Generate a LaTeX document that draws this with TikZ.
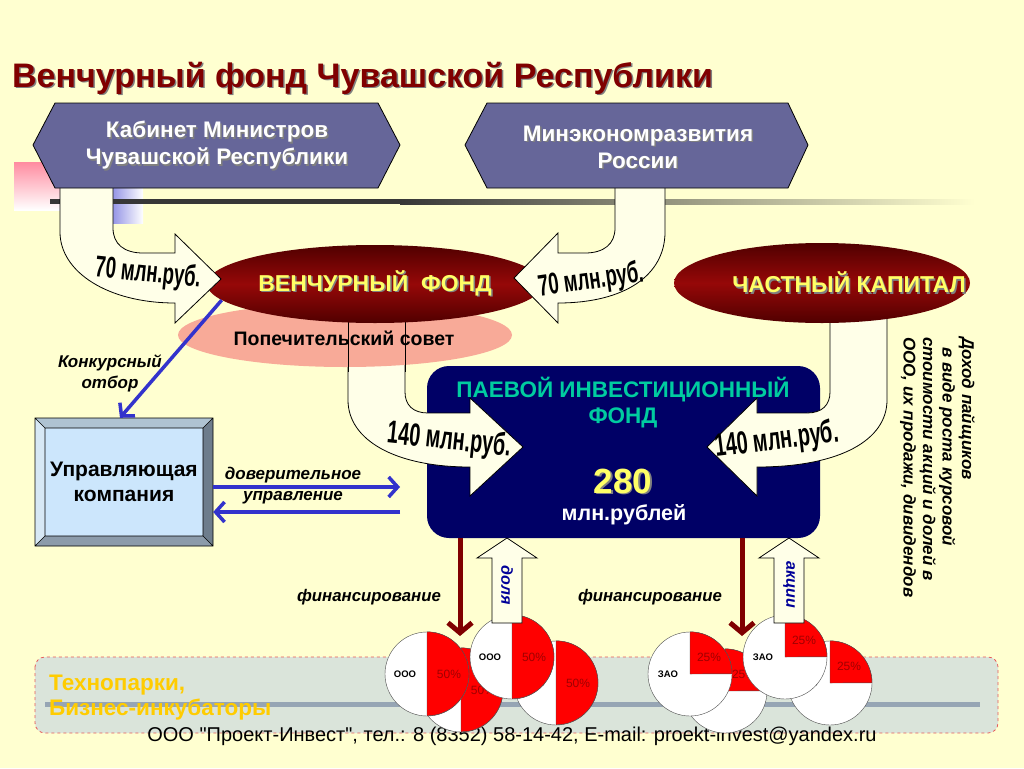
\documentclass[tikz,border=0pt]{standalone}
\usepackage{fontspec}
\setmainfont{Liberation Sans}
\newfontfamily\narrowfont[FakeStretch=0.62]{Liberation Sans Bold}
\newfontfamily\footfont[Ligatures=TeXOff]{Liberation Sans}
\usetikzlibrary{positioning, shapes.geometric, arrows.meta}

\definecolor{bgyellow}{RGB}{255,255,208}
\definecolor{titlered}{RGB}{128,0,0}
\definecolor{hexblue}{RGB}{102,102,153}
\definecolor{darkmaroon}{RGB}{80,0,0}
\definecolor{midmaroon}{RGB}{150,8,8}
\definecolor{salmonfill}{RGB}{248,170,152}
\definecolor{navyfill}{RGB}{0,0,102}
\definecolor{piftext}{RGB}{0,204,160}
\definecolor{fundyellow}{RGB}{255,255,102}
\definecolor{arrowfill}{RGB}{255,255,232}
\definecolor{selblue}{RGB}{51,51,204}
\definecolor{boxface}{RGB}{204,230,252}
\definecolor{bevtop}{RGB}{175,195,210}
\definecolor{bevleft}{RGB}{215,232,245}
\definecolor{bevright}{RGB}{110,125,140}
\definecolor{bevbottom}{RGB}{140,155,170}
\definecolor{finred}{RGB}{128,0,0}
\definecolor{sharetext}{RGB}{0,0,153}
\definecolor{piered}{RGB}{255,0,0}
\definecolor{pievalue}{RGB}{160,0,0}
\definecolor{bandfill}{RGB}{218,228,218}
\definecolor{banddash}{RGB}{230,90,90}
\definecolor{footbar}{RGB}{150,165,180}
\definecolor{parktext}{RGB}{255,204,0}
\definecolor{decopink}{RGB}{255,140,160}
\definecolor{decoblue}{RGB}{150,150,230}
\definecolor{decoline}{RGB}{55,55,55}

\newcommand\shadowtxt[1]{\leavevmode\rlap{\kern1.5pt\raisebox{-1.5pt}{\color{black!50}#1}}#1}

% kruzhok OOO: polovina krasnaya
\newcommand\halfpie[3]{%
  \node[pie] (#1) at (#2,#3) {};
  \filldraw[fill=piered, draw=black!70] (#1.north) arc[start angle=90, end angle=-90, radius=42pt] -- cycle;
  \node[pietag] (#1o) at ([xshift=-22pt]#1.center) {ООО};
  \node[pieval] (#1v) at ([xshift=22pt]#1.center) {50\%};
}
% kruzhok ZAO: chetvert krasnaya
\newcommand\quarterpie[3]{%
  \node[pie] (#1) at (#2,#3) {};
  \filldraw[fill=piered, draw=black!70] (#1.center) -- (#1.north) arc[start angle=90, end angle=0, radius=42pt] -- cycle;
  \node[pietag] (#1o) at ([xshift=-22pt]#1.center) {ЗАО};
  \node[pieval] (#1v) at ([xshift=19pt, yshift=17pt]#1.center) {25\%};
}

\begin{document}
\begin{tikzpicture}[x=1pt, y=-1pt,
    blockarrow/.style={draw=black, line width=0.8pt, fill=arrowfill},
    hexbox/.style={draw=black, line width=0.8pt, fill=hexblue},
    hextext/.style={text=white, align=center, inner sep=0, font=\fontsize{22.5}{27}\selectfont\bfseries},
    bigoval/.style={ellipse, draw=none, inner sep=0, top color=darkmaroon, bottom color=darkmaroon, middle color=midmaroon},
    ovaltext/.style={text=fundyellow, inner sep=0, font=\fontsize{23}{27}\selectfont\bfseries},
    money/.style={inner sep=0, font=\narrowfont\fontsize{30}{30}\selectfont},
    selarrow/.style={draw=selblue, line width=3.5pt, -{Straight Barb[length=9pt, width=20pt]}},
    finarrow/.style={draw=finred, line width=5pt, -{Straight Barb[length=10pt, width=24pt]}},
    smalllabel/.style={inner sep=0, align=center, font=\fontsize{17}{21}\selectfont\bfseries\itshape},
    finlabel/.style={inner sep=0, font=\fontsize{16.8}{20}\selectfont\bfseries\itshape},
    sharelabel/.style={inner sep=0, text=sharetext, rotate=-90, font=\fontsize{16}{20}\selectfont\bfseries\itshape},
    pie/.style={circle, draw=black!70, fill=white, minimum size=84pt, inner sep=0},
    pietag/.style={inner sep=0, font=\fontsize{9.5}{11}\selectfont\bfseries},
    pieval/.style={inner sep=0, text=pievalue, font=\fontsize{12}{14}\selectfont}]

%фон
    \fill[bgyellow] (0,0) rectangle (1024,768);
    \useasboundingbox (0,0) rectangle (1024,768);

%украшения слайда
    \shade[top color=decopink, bottom color=white] (14,162) rectangle (60,210);
    \shade[left color=decoblue, right color=white] (113,187) rectangle (143,223);
    \fill[decoline] (50,199) rectangle (400,204);
    \shade[left color=decoline, right color=bgyellow] (400,199) rectangle (975,204);

%заголовок
    \node[anchor=west, inner sep=0, text=titlered, font=\fontsize{34}{40}\selectfont\bfseries]
        (title) at (12,79) {\shadowtxt{Венчурный фонд Чувашской Республики}};

%паевой фонд
    \node[draw=none, fill=navyfill, rounded corners=22pt, minimum width=393pt, minimum height=172pt]
        (pif) at (623.5,452) {};

%стрелки 140 (заливка)
    \path[blockarrow] (348,318) -- (348,400) .. controls (348,440) and (395,467) .. (470,467)
        -- (470,496) -- (523,447) -- (470,398) -- (470,413) -- (428,413)
        .. controls (413,413) and (405,405) .. (405,392) -- (405,318) -- cycle;
    \path[blockarrow] (830,318) -- (830,392) .. controls (830,405) and (822,413) .. (807,413)
        -- (757,413) -- (757,398) -- (707,447) -- (757,496) -- (757,467)
        .. controls (840,467) and (887,440) .. (887,400) -- (887,318) -- cycle;

%овалы
    \node[ellipse, fill=salmonfill, inner sep=0, minimum width=334pt, minimum height=64pt]
        (sovet) at (345,335) {};
    \draw[line width=0.8pt] (348,318) -- (348,372);
    \draw[line width=0.8pt] (405,318) -- (405,372);
    \node[inner sep=0, font=\fontsize{19.5}{22}\selectfont\bfseries] (sovett) at (344,338) {Попечительский совет};
    \node[bigoval, ovaltext, minimum width=336pt, minimum height=78pt] (vf) at (375,284)
        {\shadowtxt{ВЕНЧУРНЫЙ\ \ ФОНД}};
    \node[bigoval, minimum width=296pt, minimum height=80pt] (ck) at (822,283) {};
    \node[ovaltext] (ckt) at (849,283) {\shadowtxt{ЧАСТНЫЙ КАПИТАЛ}};

%стрелки 70
    \path[blockarrow] (60,185) -- (60,232) .. controls (60,272) and (108,303) .. (175,303)
        -- (175,323) -- (221,279) -- (175,234) -- (175,253) -- (143,253)
        .. controls (124,253) and (113,244) .. (113,228) -- (113,185) -- cycle;
    \path[blockarrow] (615,185) -- (615,228) .. controls (615,244) and (604,253) .. (585,253)
        -- (558,253) -- (558,233) -- (514,278) -- (558,323) -- (558,303)
        .. controls (625,303) and (665,275) .. (665,232) -- (665,185) -- cycle;

%учредители
    \path[hexbox] (33,145) -- (55,103) -- (378,103) -- (400,145) -- (378,188) -- (55,188) -- cycle;
    \node[hextext] (kab) at (217,146) {\shadowtxt{Кабинет Министров}\\\shadowtxt{Чувашской Республики}};
    \path[hexbox] (465,145) -- (487,103) -- (788,103) -- (808,145) -- (788,188) -- (487,188) -- cycle;
    \node[hextext] (mer) at (638,148) {\shadowtxt{Минэкономразвития}\\\shadowtxt{России}};

%суммы
    \node[money, rotate=-6] (sumkab) at (148,274) {70 млн.руб.};
    \node[money, rotate=8] (summer) at (591,281) {70 млн.руб.};
    \node[money, rotate=-6, font=\narrowfont\fontsize{32}{32}\selectfont] (sumvf) at (449,441) {140 млн.руб.};
    \node[money, rotate=7, font=\narrowfont\fontsize{32}{32}\selectfont] (sumck) at (777,441) {140 млн.руб.};

%тексты паевого фонда
    \node[inner sep=0, align=center, text=piftext, font=\fontsize{22.5}{26}\selectfont\bfseries]
        (pift) at (623,403) {ПАЕВОЙ ИНВЕСТИЦИОННЫЙ\\ФОНД};
    \node[inner sep=0, text=fundyellow, font=\fontsize{35}{40}\selectfont\bfseries]
        (pifn) at (623,482) {\shadowtxt{280}};
    \node[inner sep=0, text=white, font=\fontsize{21.5}{24}\selectfont\bfseries]
        (pifu) at (624,515) {млн.рублей};

%управляющая компания
    \fill[bevtop] (35,418) -- (213,418) -- (203,428) -- (45,428) -- cycle;
    \fill[bevleft] (35,418) -- (45,428) -- (45,536) -- (35,546) -- cycle;
    \fill[bevright] (213,418) -- (213,546) -- (203,536) -- (203,428) -- cycle;
    \fill[bevbottom] (35,546) -- (213,546) -- (203,536) -- (45,536) -- cycle;
    \fill[boxface] (45,428) rectangle (203,536);
    \draw[line width=0.6pt] (35,418) rectangle (213,546) (45,428) rectangle (203,536)
        (35,418) -- (45,428) (213,418) -- (203,428) (35,546) -- (45,536) (213,546) -- (203,536);
    \node[minimum width=178pt, minimum height=128pt, align=center,
        font=\fontsize{21}{25}\selectfont\bfseries] (uk) at (124,482) {Управляющая\\компания};

%отбор и доверительное управление
    \draw[selarrow] (vf.186) -- ([xshift=-4pt]uk.north);
    \node[smalllabel] (konk) at (110,373) {Конкурсный\\отбор};
    \coordinate (du) at (400,487);
    \coordinate (dl) at (400,512);
    \draw[selarrow] (uk.east |- du) -- (du);
    \draw[selarrow] (dl) -- (uk.east |- dl);
    \node[smalllabel] (dov) at (293,486) {доверительное\\управление};

%доход пайщиков
    \node[rotate=-90, anchor=north west, inner sep=0, align=left,
        font=\fontsize{17}{19.5}\selectfont\bfseries\itshape] (dohod) at (975,337)
        {Доход пайщиков\\\hspace*{10pt}в виде роста курсовой\\стоимости акций и долей в\\ООО, их продажи, дивидендов};

%технопарки
    \draw[banddash, dashed, fill=bandfill, rounded corners=10pt, line width=0.8pt] (35,657) rectangle (998,733);
    \fill[footbar] (45,702) rectangle (980,707);
    \node[anchor=west, inner sep=0, align=left, text=parktext, font=\fontsize{22.5}{25}\selectfont\bfseries]
        (park) at (49,698) {Технопарки,\\Бизнес-инкубаторы};
    \node[inner sep=0, font=\footfont\fontsize{20}{22}\selectfont] (foot) at (512,736)
        {ООО "Проект-Инвест", тел.: 8 (8352) 58-14-42, E-mail: proekt-invest@yandex.ru};

%предприятия
    \halfpie{pB}{461}{690}
    \halfpie{pA}{427}{674}
    \halfpie{pD}{556}{683}
    \halfpie{pC}{512}{657}
    \quarterpie{zF}{725}{691}
    \quarterpie{zE}{690}{674}
    \quarterpie{zH}{830}{683}
    \quarterpie{zG}{785}{657}

%доля и акции
    \path[blockarrow] (492,623) -- (492,558) -- (477,558) -- (507,538) -- (537,558) -- (522,558) -- (522,623) -- cycle;
    \node[sharelabel] (dolya) at (507,585) {доля};
    \path[blockarrow] (774,623) -- (774,558) -- (759,558) -- (789,538) -- (819,558) -- (804,558) -- (804,623) -- cycle;
    \node[sharelabel] (akcii) at (789,585) {акции};

%финансирование
    \coordinate (fa) at (460,636);
    \coordinate (fb) at (742,636);
    \draw[finarrow] (pif.south -| fa) -- (fa);
    \draw[finarrow] (pif.south -| fb) -- (fb);
    \node[finlabel] (fin1) at (369,597) {финансирование};
    \node[finlabel] (fin2) at (650,597) {финансирование};
\end{tikzpicture}
\end{document}
